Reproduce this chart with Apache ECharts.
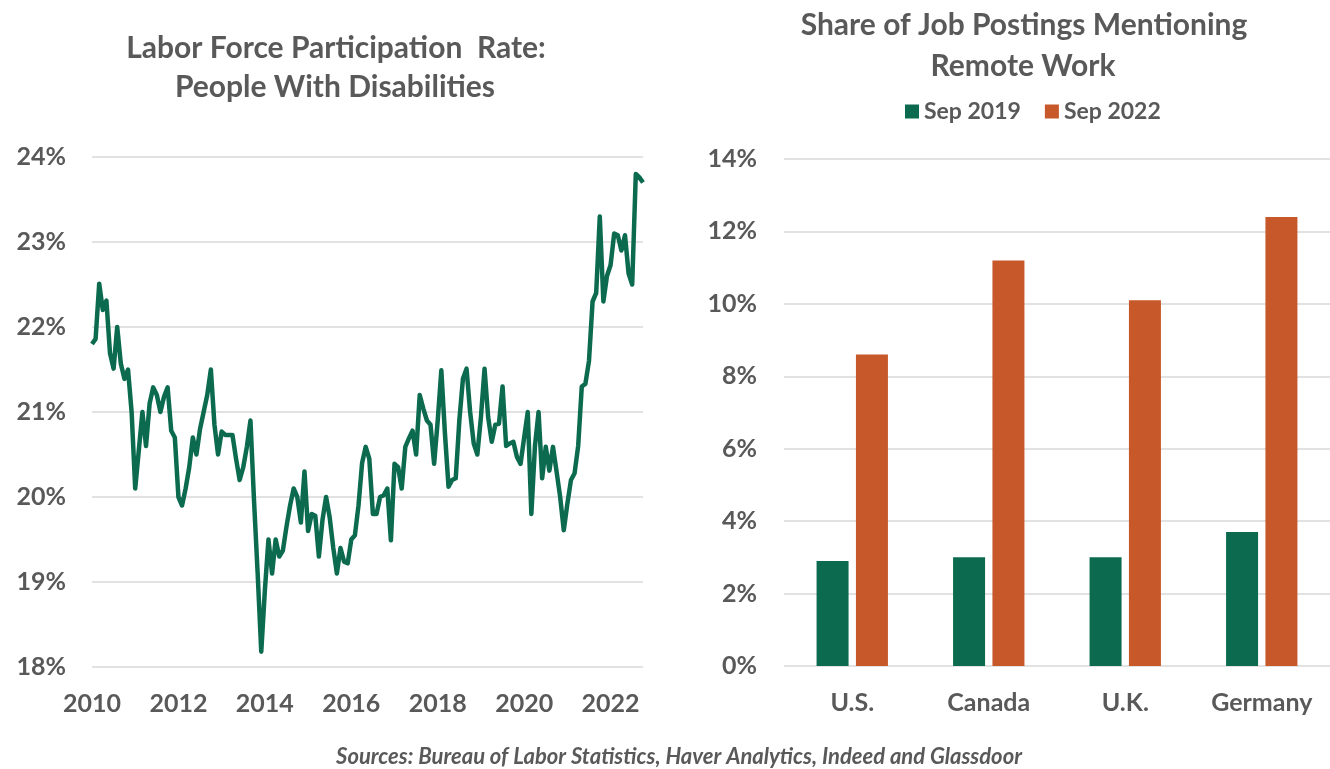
<!DOCTYPE html>
<html>
<head>
<meta charset="utf-8">
<script src="https://cdn.jsdelivr.net/npm/echarts@6/dist/echarts.min.js"></script>
<style>
html,body{margin:0;padding:0;background:#fff;}
#chart{width:1330px;height:769px;}
</style>
</head>
<body>
<div id="chart"></div>
<script>
// ---- Left chart: Labor force participation rate, people with disabilities (monthly, Jan 2010 - Oct 2022)
const startYear = 2010;
const lfprValues = [
  21.80, 21.86, 22.51, 22.20, 22.31, 21.69, 21.51, 22.00, 21.57, 21.39, 21.50, 21.00, // 2010
  20.10, 20.55, 21.00, 20.60, 21.10, 21.29, 21.20, 21.00, 21.18, 21.29, 20.78, 20.70, // 2011
  20.00, 19.90, 20.10, 20.35, 20.70, 20.50, 20.80, 21.00, 21.20, 21.50, 20.85, 20.50, // 2012
  20.77, 20.73, 20.73, 20.73, 20.45, 20.20, 20.35, 20.59, 20.90, 19.95, 19.10, 18.18, // 2013
  18.90, 19.50, 19.10, 19.50, 19.30, 19.37, 19.65, 19.90, 20.10, 20.00, 19.70, 20.30, // 2014
  19.60, 19.80, 19.78, 19.30, 19.73, 20.00, 19.76, 19.40, 19.10, 19.40, 19.24, 19.22, // 2015
  19.50, 19.55, 19.90, 20.40, 20.59, 20.45, 19.80, 19.80, 20.00, 20.02, 20.10, 19.49, // 2016
  20.39, 20.35, 20.10, 20.59, 20.69, 20.78, 20.50, 21.20, 21.04, 20.90, 20.85, 20.39, // 2017
  20.90, 21.49, 20.75, 20.12, 20.20, 20.22, 20.90, 21.39, 21.51, 21.00, 20.63, 20.50, // 2018
  20.94, 21.51, 20.94, 20.65, 20.85, 20.86, 21.30, 20.60, 20.63, 20.65, 20.47, 20.39, // 2019
  20.70, 21.00, 19.80, 20.60, 21.00, 20.22, 20.59, 20.31, 20.59, 20.30, 20.00, 19.61, // 2020
  19.92, 20.20, 20.28, 20.60, 21.30, 21.33, 21.60, 22.30, 22.40, 23.30, 22.30, 22.60, // 2021
  22.73, 23.10, 23.08, 22.90, 23.08, 22.63, 22.50, 23.80, 23.76, 23.70              // 2022
];
const lfprMonths = lfprValues.map((v, i) => {
  const y = startYear + Math.floor(i / 12);
  const m = (i % 12) + 1;
  return y + '-' + (m < 10 ? '0' + m : m);
});
const lfprYTicks = [18, 19, 20, 21, 22, 23, 24];

// ---- Right chart: share of job postings mentioning remote work
const countries = ['U.S.', 'Canada', 'U.K.', 'Germany'];
const sep2019 = [2.9, 3.0, 3.0, 3.7];
const sep2022 = [8.6, 11.2, 10.1, 12.4];
const remoteYTicks = [0, 2, 4, 6, 8, 10, 12, 14];

const GREEN = '#0c6b4e';
const ORANGE = '#c7582a';
const TEXT = '#595959';
const GRIDC = '#d9d9d9';
const FONT = 'Lato, "Open Sans", sans-serif';

const chart = echarts.init(document.getElementById('chart'), null, {renderer: 'canvas'});

const option = {
  backgroundColor: '#ffffff',
  animation: false,
  textStyle: {fontFamily: FONT},
  graphic: [
    {type: 'text', x: 336, y: 48, style: {text: 'Labor Force Participation  Rate:', textAlign: 'center', textVerticalAlign: 'middle', fill: TEXT, font: 'bold 30px ' + FONT}},
    {type: 'text', x: 335, y: 87, style: {text: 'People With Disabilities', textAlign: 'center', textVerticalAlign: 'middle', fill: TEXT, font: 'bold 30px ' + FONT}},
    {type: 'text', x: 1024, y: 25, style: {text: 'Share of Job Postings Mentioning', textAlign: 'center', textVerticalAlign: 'middle', fill: TEXT, font: 'bold 30px ' + FONT}},
    {type: 'text', x: 1023, y: 66, style: {text: 'Remote Work', textAlign: 'center', textVerticalAlign: 'middle', fill: TEXT, font: 'bold 30px ' + FONT}},
    {type: 'text', x: 679, y: 757, style: {text: 'Sources: Bureau of Labor Statistics, Haver Analytics, Indeed and Glassdoor', textAlign: 'center', textVerticalAlign: 'middle', fill: TEXT, font: 'italic bold 22px ' + FONT}}
  ],
  legend: {
    data: ['Sep 2019', 'Sep 2022'],
    left: 900,
    top: 95,
    icon: 'rect',
    itemWidth: 14,
    itemHeight: 14,
    itemGap: 24,
    textStyle: {color: TEXT, fontSize: 23, fontWeight: 'bold', fontFamily: FONT}
  },
  grid: [
    {left: 92, right: 687, top: 157, bottom: 102},
    {left: 784, right: 0, top: 159, bottom: 103}
  ],
  xAxis: [
    {
      type: 'category', gridIndex: 0, data: lfprMonths, boundaryGap: false,
      axisLine: {show: false}, axisTick: {show: false},
      axisLabel: {
        interval: (idx) => idx % 24 === 0,
        formatter: (v) => v.slice(0, 4),
        color: TEXT, fontSize: 25, fontWeight: 'bold', fontFamily: FONT, margin: 24
      },
      splitLine: {show: false}
    },
    {
      type: 'category', gridIndex: 1, data: countries,
      axisLine: {show: false}, axisTick: {show: false},
      axisLabel: {color: TEXT, fontSize: 25, fontWeight: 'bold', fontFamily: FONT, margin: 24}
    }
  ],
  yAxis: [
    {
      type: 'value', gridIndex: 0, min: lfprYTicks[0], max: lfprYTicks[lfprYTicks.length - 1], interval: 1,
      axisLine: {show: false}, axisTick: {show: false},
      axisLabel: {formatter: '{value}%', color: TEXT, fontSize: 25, fontWeight: 'bold', fontFamily: FONT, margin: 26},
      splitLine: {lineStyle: {color: GRIDC, width: 1.5}}
    },
    {
      type: 'value', gridIndex: 1, min: remoteYTicks[0], max: remoteYTicks[remoteYTicks.length - 1], interval: 2,
      axisLine: {show: false}, axisTick: {show: false},
      axisLabel: {formatter: '{value}%', color: TEXT, fontSize: 25, fontWeight: 'bold', fontFamily: FONT, margin: 27},
      splitLine: {lineStyle: {color: GRIDC, width: 1.5}}
    }
  ],
  series: [
    {
      name: 'LFPR', type: 'line', xAxisIndex: 0, yAxisIndex: 0, data: lfprValues,
      showSymbol: false, symbol: 'none',
      lineStyle: {color: GREEN, width: 4.5, join: 'round'},
      itemStyle: {color: GREEN}
    },
    {
      name: 'Sep 2019', type: 'bar', xAxisIndex: 1, yAxisIndex: 1, data: sep2019,
      barWidth: 32, barGap: '23%', itemStyle: {color: GREEN}
    },
    {
      name: 'Sep 2022', type: 'bar', xAxisIndex: 1, yAxisIndex: 1, data: sep2022,
      barWidth: 32, barGap: '23%', itemStyle: {color: ORANGE}
    }
  ]
};
chart.setOption(option);
</script>
</body>
</html>
